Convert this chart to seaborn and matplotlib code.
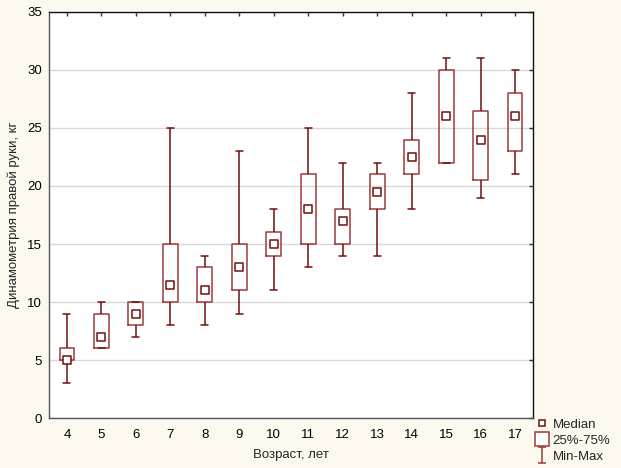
import numpy as np
import pandas as pd
import matplotlib
matplotlib.use("Agg")
import matplotlib.pyplot as plt
from matplotlib.lines import Line2D
from matplotlib.path import Path
import seaborn as sns

ages    = [4, 5, 6, 7, 8, 9, 10, 11, 12, 13, 14, 15, 16, 17]
mins    = [3, 6, 7, 8, 8, 9, 11, 13, 14, 14, 18, 22, 19, 21]
q1s     = [5, 6, 8, 10, 10, 11, 14, 15, 15, 18, 21, 22, 20.5, 23]
medians = [5, 7, 9, 11.5, 11, 13, 15, 18, 17, 19.5, 22.5, 26, 24, 26]
q3s     = [6, 9, 10, 15, 13, 15, 16, 21, 18, 21, 24, 30, 26.5, 28]
maxs    = [9, 10, 10, 25, 14, 23, 18, 25, 22, 22, 28, 31, 31, 30]

xlabel = "Возраст, лет"
ylabel = "Динамометрия правой руки, кг"
legend_labels = ["Median", "25%-75%", "Min-Max"]

rows = []
for a, mn, q1, md, q3, mx in zip(ages, mins, q1s, medians, q3s, maxs):
    for v in (mn, q1, md, q3, mx):
        rows.append({"age": a, "value": v})
df = pd.DataFrame(rows)
med_df = pd.DataFrame({"age": ages, "median": medians})

sns.set_theme(style="white")
plt.rcParams["font.family"] = ["Liberation Sans", "DejaVu Sans"]

bg = "#FEF9EE"
box_col = "#9E3A3A"
dark = "#6E0F0F"

fig = plt.figure(figsize=(6.21, 4.68), dpi=100, facecolor=bg)
ax = fig.add_axes([0.0789, 0.1068, 0.7794, 0.8676])
ax.set_facecolor("white")

sns.boxplot(data=df, x="age", y="value", native_scale=True, whis=(0, 100),
            fill=False, width=0.43, linecolor=box_col, linewidth=1.1,
            medianprops={"visible": False}, showfliers=False, ax=ax)
for ln in ax.lines:
    ln.set_color(dark if len(ln.get_xdata()) == 2 else box_col)
    xd = np.asarray(ln.get_xdata(), dtype=float)
    yd = np.asarray(ln.get_ydata(), dtype=float)
    if len(xd) == 2 and yd[0] == yd[1] and xd[0] != xd[1]:
        c = xd.mean()
        ln.set_xdata([c - 0.1, c + 0.1])
for p in ax.patches:
    p.set_edgecolor(box_col)

sns.scatterplot(data=med_df, x="age", y="median", marker="s", s=28,
                facecolor="white", edgecolor=dark, linewidth=1.1, ax=ax, zorder=5)

ax.set_xlim(3.48, 17.52)
ax.set_ylim(0, 35)
ax.set_xticks(ages)
ax.set_xticklabels([str(a) for a in ages])
ax.set_yticks(np.arange(0, 36, 5))
ax.yaxis.grid(True, color="#D8D8D8", linewidth=1)
ax.xaxis.grid(False)
ax.set_axisbelow(True)
ax.tick_params(axis="both", direction="in", length=3, width=1, colors="#333333",
               labelcolor="black", labelsize=9.5, top=True, right=True,
               labeltop=False, labelright=False, pad=8)
ax.tick_params(axis="y", pad=5)
for s in ["left", "bottom"]:
    ax.spines[s].set_color("#555555")
for s in ["top", "right"]:
    ax.spines[s].set_color("#111111")
for s in ax.spines.values():
    s.set_linewidth(1)

ax.set_xlabel(xlabel, fontsize=9.5, labelpad=6)
ax.set_ylabel(ylabel, fontsize=9.5, labelpad=5)

ibeam = Path([(-0.5, 1), (0.5, 1), (0, 1), (0, -1), (-0.5, -1), (0.5, -1)],
             [Path.MOVETO, Path.LINETO, Path.MOVETO, Path.LINETO, Path.MOVETO, Path.LINETO])
handles = [
    Line2D([], [], marker="s", linestyle="none", markersize=5, markerfacecolor="white",
           markeredgecolor=dark, markeredgewidth=1.1),
    Line2D([], [], marker="s", linestyle="none", markersize=10, markerfacecolor="white",
           markeredgecolor=box_col, markeredgewidth=1.1),
    Line2D([], [], marker=ibeam, linestyle="none", markersize=11, markerfacecolor="none",
           markeredgecolor=box_col, markeredgewidth=1.1),
]
fig.legend(handles, legend_labels, loc="upper left", bbox_to_anchor=(0.862, 0.106),
           frameon=False, fontsize=9.5, handlelength=1.0, handletextpad=0.3,
           labelspacing=0.3, borderpad=0, borderaxespad=0)

fig.savefig("out.png", dpi=100, facecolor=bg)
